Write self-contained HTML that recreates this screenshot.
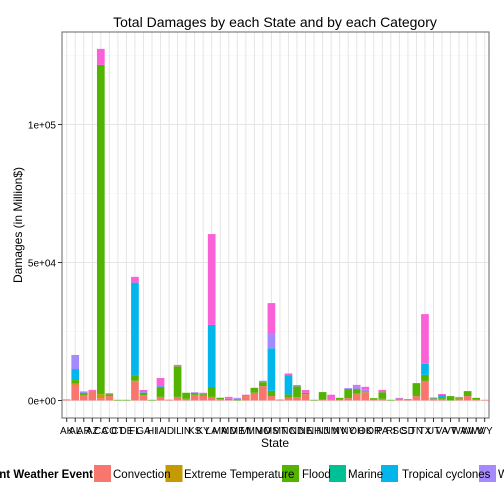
<!DOCTYPE html>
<html><head><meta charset="utf-8"><style>
body{margin:0;background:#fff;}
svg{display:block;font-family:"Liberation Sans",Arial,sans-serif;}
</style></head><body>
<svg id="chart" width="504" height="504" viewBox="0 0 504 504">
<rect width="504" height="504" fill="#fff"/>
<text x="275" y="27" font-size="14" text-anchor="middle" fill="#000">Total Damages by each State and by each Category</text>
<text transform="translate(22,225) rotate(-90)" font-size="12" text-anchor="middle" fill="#000">Damages (in Million$)</text>
<text x="275" y="447" font-size="12" text-anchor="middle" fill="#000">State</text>
<g id="grid"></g>
<g id="bars"></g>
<rect x="62" y="32" width="427" height="386" fill="none" stroke="#7f7f7f" stroke-width="1.2"/>
<g id="axes"></g>
<g id="legend"></g>
</svg>
<script>
const states = ["AK","AL","AR","AZ","CA","CO","CT","DE","FL","GA","HI","IA","ID","IL","IN","KS","KY","LA","MA","MD","ME","MI","MN","MO","MS","MT","NC","ND","NE","NH","NJ","NM","NV","NY","OH","OK","OR","PA","RI","SC","SD","TN","TX","UT","VA","VT","WA","WI","WV","WY"];
const categories = ["Convection","Extreme Temperature","Flood","Marine","Tropical cyclones","Winter","Other"];
const colors = ["#F8766D","#C49A00","#53B400","#00C094","#00B6EB","#A58AFF","#FB61D7"];
// values in thousand Million$
const convection = [0.4,5.8,2.0,3.6,0.85,1.6,0,0,6.8,1.9,0,1.3,0.3,1.3,0.6,2.05,1.7,1.3,0.5,0.35,0,1.6,2.8,5.2,1.6,0.35,1.0,1.2,2.3,0,0.25,0.2,0.35,0.85,2.2,3.0,0.25,0.6,0,0.7,0.25,1.6,7.1,0.5,0.6,0,0.7,1.6,0.25,0.25];
const extremeTemp = [0,0.4,0,0,1.45,0,0,0,0.35,0,0,0,0,0,0,0,0,0,0,0,0,0,0,0,0,0,0,0,0,0,0,0,0,0,0.25,0,0,0,0,0,0,0,0,0,0,0,0,0,0,0];
const flood = [0,1.2,0.7,0,119.3,0.7,0.25,0.25,2.05,0.85,0.25,3.6,0,11.1,2.2,0.7,0.6,3.6,0.5,0.25,0.25,0.25,1.8,1.45,1.9,0,1.2,3.9,0.5,0.25,2.8,0,0.6,3.3,1.7,0.35,0.6,2.4,0.25,0,0.25,4.7,2.2,0.25,0.7,1.6,0.25,1.8,0.7,0];
const marine = [0,0,0,0,0,0,0,0,0,0,0,0,0,0,0,0,0,0,0,0,0,0,0,0,0,0,0,0,0,0,0,0,0,0,0,0,0,0,0,0,0,0,0,0,0,0,0,0,0,0];
const tropical = [0,4.0,0,0,0,0,0,0,33.5,0.2,0,0.25,0,0,0,0,0,22.5,0,0,0.35,0,0,0,15.4,0,7.0,0,0,0,0,0,0,0,0,0,0,0,0,0,0,0,4.0,0,0.7,0,0,0,0,0];
const winter = [0,5.1,0.6,0,0,0,0,0,0,0,0,0,0,0,0,0.25,0,0,0,0,0.35,0,0,0.5,5.2,0,0,0.5,0,0,0,0,0,0.35,1.0,0.6,0,0,0,0.25,0,0,0,0.35,0,0,0.35,0,0,0];
const other = [0,0,0,0.25,5.8,0.35,0,0,2.1,0.85,0,3.0,0,0.5,0,0,0.5,32.9,0,0.7,0,0.25,0,0,11.2,0,0.6,0,1.0,0,0,1.9,0,0,0.5,1.0,0,0.85,0,0,0,0,18.0,0,0.35,0,0,0,0,0];
const yTickValues = [0,50,100];
const yTickLabels = ["0e+00","5e+04","1e+05"];
const yMinorValues = [25,75,125];
const series = [convection,extremeTemp,flood,marine,tropical,winter,other];

const NS="http://www.w3.org/2000/svg";
const x0=66.7, step=8.53, bw=7.7;
function xScale(i){return x0+i*step;}
function yScale(v){return 400.5-v*2.76;}
function mk(tag,attrs,parent){const e=document.createElementNS(NS,tag);for(const k in attrs)e.setAttribute(k,attrs[k]);parent.appendChild(e);return e;}
const grid=document.getElementById('grid'),bars=document.getElementById('bars'),axes=document.getElementById('axes'),legend=document.getElementById('legend');
mk('rect',{x:62,y:32,width:427,height:386,fill:'#fff'},grid);
yMinorValues.forEach(v=>{const y=yScale(v);if(y>32){const l=mk('line',{x1:62,x2:489,y1:y,y2:y,stroke:'#f2f2f2','stroke-width':0.6},grid);

}});
yTickValues.forEach((v,k)=>{const y=yScale(v);const l=mk('line',{x1:62,x2:489,y1:y,y2:y,stroke:'#e5e5e5','stroke-width':1},grid);


const t=mk('line',{x1:58,x2:62,y1:y,y2:y,stroke:'#333','stroke-width':1},axes);


const tx=mk('text',{x:56,y:y+4,'font-size':10,'text-anchor':'end',fill:'#000'},axes);tx.textContent=yTickLabels[k];

});
states.forEach((s,i)=>{const x=xScale(i);
const g=mk('line',{x1:x,x2:x,y1:32,y2:418,stroke:'#e5e5e5','stroke-width':1},grid);


const t=mk('line',{x1:x,x2:x,y1:418,y2:422,stroke:'#333','stroke-width':1},axes);


const tx=mk('text',{x:x,y:434,'font-size':10,'text-anchor':'middle',fill:'#000'},axes);tx.textContent=s;


let acc=0;
series.forEach((arr,c)=>{const v=arr[i];if(v>0){const r=mk('rect',{x:x-bw/2,y:yScale(acc+v),width:bw,height:yScale(acc)-yScale(acc+v),fill:colors[c]},bars);

acc+=v;}});
});
const keyX=[94,165.5,282,329,381,479];
const labX=[113,184,302,348,402,498];
for(let c=0;c<6;c++){
const r=mk('rect',{x:keyX[c],y:465,width:17,height:17,fill:colors[c]},legend);


}
const lt=mk('text',{x:93,y:478,'font-size':11.5,'font-weight':'bold','text-anchor':'end',fill:'#000'},legend);lt.textContent='Current Weather Event';


for(let c=0;c<6;c++){
const t=mk('text',{x:labX[c],y:478,'font-size':11.5,fill:'#000'},legend);t.textContent=categories[c];


}
</script>
</body></html>
